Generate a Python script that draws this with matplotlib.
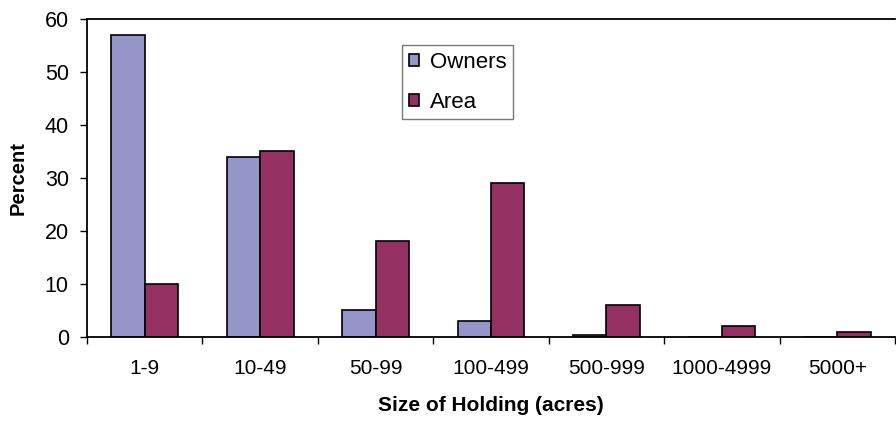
import numpy as np
import matplotlib
matplotlib.use("Agg")
import matplotlib.pyplot as plt

plt.rcParams["font.family"] = ["Liberation Sans", "DejaVu Sans"]

# size classes and percentages
categories = ["1-9", "10-49", "50-99", "100-499", "500-999", "1000-4999", "5000+"]
owners = [57, 34, 5, 3, 0.4, 0, 0]
area = [10, 35, 18, 29, 6, 2, 1]

fig = plt.figure(figsize=(8.96, 4.21), dpi=100)
ax = fig.add_axes([0.097, 0.2, 0.902, 0.755])

x = np.arange(len(categories))
w = 0.29
ax.bar(x - w / 2, owners, w, color="#9595C9", edgecolor="black", linewidth=1.2, label="Owners")
ax.bar(x + w / 2, area, w, color="#953162", edgecolor="black", linewidth=1.2, label="Area")

ax.set_xlim(-0.5, len(categories) - 0.5)
ax.set_ylim(0, 60)
ax.set_yticks(range(0, 61, 10))
ax.tick_params(axis="y", labelsize=15.5, length=5, width=1, direction="out", pad=8)
ax.set_xticks(x)
ax.set_xticklabels(categories, fontsize=15)
ax.tick_params(axis="x", length=0, pad=16)
ax.set_xticks(np.arange(len(categories) + 1) - 0.5, minor=True)
ax.tick_params(axis="x", which="minor", length=5, width=1, direction="out")

ax.spines["right"].set_visible(False)
for s in ["left", "bottom", "top"]:
    ax.spines[s].set_linewidth(1.3)

ax.set_xlabel("Size of Holding (acres)", fontsize=15, fontweight="bold", labelpad=13)
ax.set_ylabel("Percent", fontsize=14.5, fontweight="bold", labelpad=12)

leg = fig.legend(loc="upper left", bbox_to_anchor=(402 / 896, 1 - 45 / 421),
                 bbox_transform=fig.transFigure, fontsize=16,
                 frameon=True, fancybox=False, handlelength=0.45, handleheight=0.45,
                 handletextpad=0.5, labelspacing=0.85, borderpad=0.3, borderaxespad=0)
leg.get_frame().set_edgecolor("#555555")
leg.get_frame().set_linewidth(1)

fig.savefig("out.png", dpi=100)
